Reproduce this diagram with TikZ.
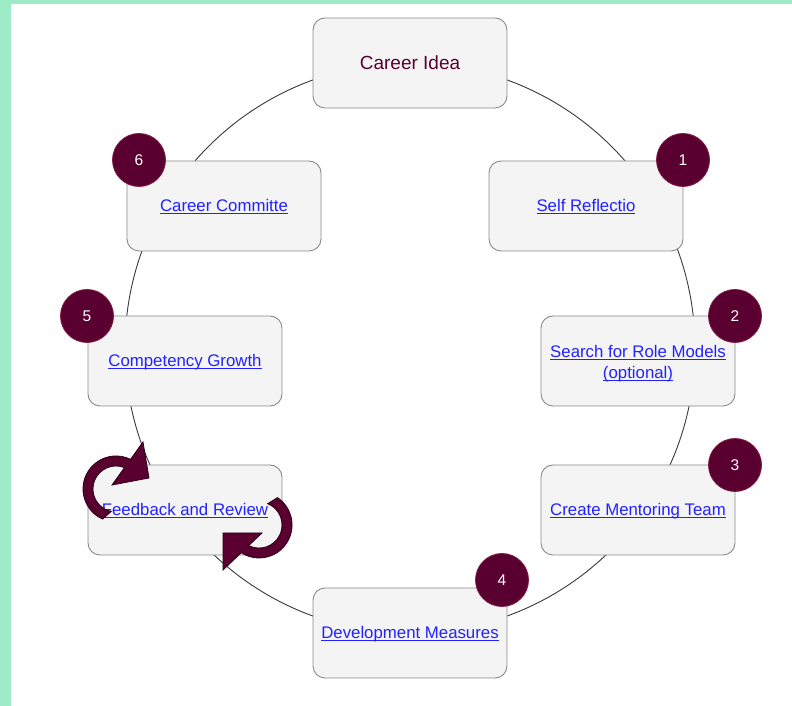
\documentclass[tikz,border=0pt]{standalone}
\usepackage{fontspec}
\setmainfont{Liberation Sans}
\definecolor{bggreen}{HTML}{9EEBC8}
\definecolor{maroon}{HTML}{5A0030}
\definecolor{maroonedge}{HTML}{7E1A40}
\definecolor{arrowedge}{HTML}{2A0016}
\definecolor{linkblue}{HTML}{2222FF}
\definecolor{boxfill}{HTML}{F4F4F4}
\definecolor{boxedge}{HTML}{8A8A8A}
\definecolor{ringcol}{HTML}{3A3A3A}
\newcommand\linkul[1]{\setbox0\hbox{#1}\rlap{\smash{\rule[-2.2pt]{\wd0}{0.9pt}}}\box0}
\tikzset{
  stagebox/.style={rectangle, rounded corners=12pt, minimum width=194pt, minimum height=90pt,
    inner sep=0pt, fill=boxfill, draw=boxedge, line width=0.9pt},
  linktext/.style={text=linkblue, font=\fontsize{16.8}{21}\selectfont, align=center},
  oneline/.style={text height=12pt, text depth=0pt},
  badge/.style={circle, minimum size=53pt, inner sep=0pt, fill=maroon, draw=maroonedge,
    line width=0.8pt, text=white, font=\fontsize{15.5}{18}\selectfont},
  ring/.style={draw=ringcol, line width=0.9pt},
  cyclearrow/.style={fill=maroon, draw=arrowedge, line width=0.8pt, line join=miter}
}
\begin{document}
\begin{tikzpicture}[x=1pt,y=1pt]
\useasboundingbox (0,0) rectangle (792,706);
\fill[bggreen] (0,0) rectangle (792,706);
\fill[white] (11,0) rectangle (792,702);
% ring
\coordinate (center) at (410,358);
\draw[ring] (center) circle[radius=285pt];
% stage boxes
\node[stagebox, text=maroon, font=\fontsize{19}{22}\selectfont] (idea) at (410,643) {Career Idea};
\node[stagebox, linktext, oneline] (self) at (586,500) {\linkul{Self Reflectio}};
\node[stagebox, linktext] (search) at (638,345) {};
\node[linktext, anchor=center] (searchtext) at (638,342) {\linkul{Search for Role Models}\\\linkul{(optional)}};
\node[stagebox, linktext, oneline] (mentor) at (638,196) {\linkul{Create Mentoring Team}};
\node[stagebox, linktext, oneline] (dev) at (410,73) {\linkul{Development Measures}};
\node[stagebox, linktext, oneline] (feedback) at (185,196) {\linkul{Feedback and Review}};
\node[stagebox, linktext, oneline] (comp) at (185,345) {\linkul{Competency Growth}};
\node[stagebox, linktext, oneline] (committee) at (224,500) {\linkul{Career Committe}};
% badges
\node[badge] (b1) at (683,546) {1};
\node[badge] (b2) at (735,390) {2};
\node[badge] (b3) at (735,241) {3};
\node[badge] (b4) at (502,126) {4};
\node[badge] (b5) at (87,390) {5};
\node[badge] (b6) at (139,546) {6};
% cycle arrows around Feedback and Review
\filldraw[cyclearrow] (102.6,186.9) arc[start angle=246, end angle=63.9, radius=33pt]
  -- (143,264) -- (149,228) -- (112,221) -- (124.5,238.4)
  arc[start angle=68.3, end angle=258, radius=23pt] -- cycle;
\filldraw[cyclearrow] (277.5,208.4) arc[start angle=56, end angle=-122.6, radius=33pt]
  -- (223,136) -- (223,173) -- (262,173) -- (248.7,160.4)
  arc[start angle=-116.6, end angle=68, radius=23pt] -- cycle;
\end{tikzpicture}
\end{document}
